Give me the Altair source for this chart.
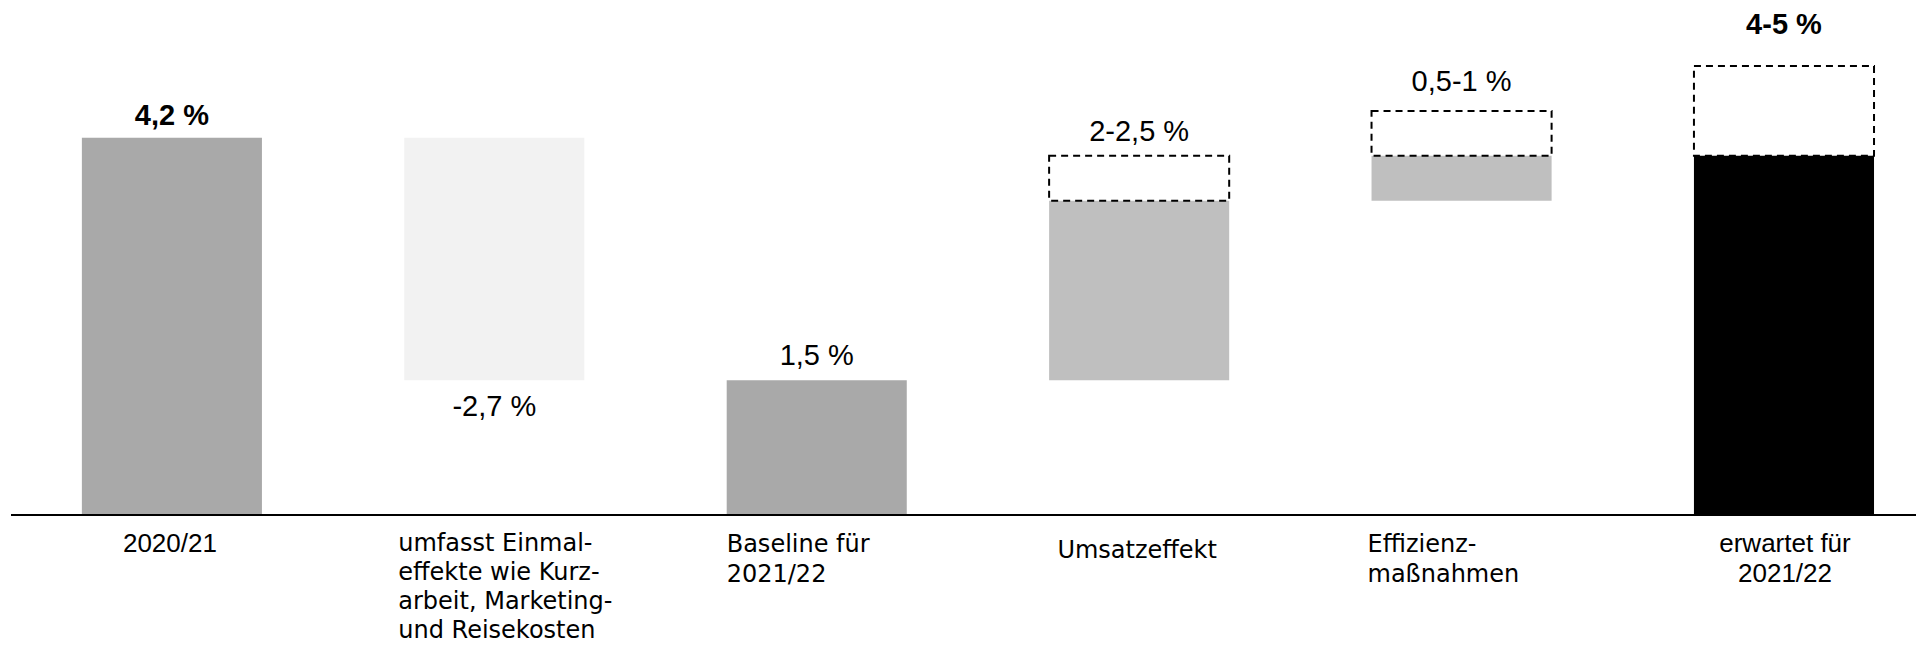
import altair as alt
import pandas as pd

# ---- data ----
keys = ["k2020", "einmal", "baseline", "umsatz", "effizienz", "erwartet"]
cat_labels = [
    "2020/21",
    "umfasst Einmal-\neffekte wie Kurz-\narbeit, Marketing-\nund Reisekosten",
    "Baseline für\n2021/22",
    "Umsatzeffekt",
    "Effizienz-\nmaßnahmen",
    "erwartet für\n2021/22",
]
solid_start = [0.0, 1.5, 0.0, 1.5, 3.5, 0.0]
solid_end = [4.2, 4.2, 1.5, 3.5, 4.0, 4.0]
solid_colors = ["#a9a9a9", "#f2f2f2", "#a9a9a9", "#bfbfbf", "#bfbfbf", "#000000"]
range_start = [None, None, None, 3.5, 4.0, 4.0]
range_end = [None, None, None, 4.0, 4.5, 5.0]
value_labels = ["4,2 %", "-2,7 %", "1,5 %", "2-2,5 %", "0,5-1 %", "4-5 %"]
label_bold = [True, False, False, False, False, True]
label_below = [False, True, False, False, False, False]

# ---- styling (not data) ----
value_dy = [-13, 36, -15, -15, -20, -32]
cat_align = ["center", "left", "left", "center", "left", "center"]
cat_dx = [-2, -6, 0, -2, -4, 1]
cat_dy = [37, 36, 37, 43, 37, 37]
cat_line_height = [30, 29, 30, 30, 30, 30]
cat_font = ["Liberation Sans", "DejaVu Sans", "DejaVu Sans", "DejaVu Sans", "DejaVu Sans", "Liberation Sans"]
cat_size = [26, 24, 24, 24, 24, 26]

anchor = []
for i in range(len(keys)):
    if label_below[i]:
        anchor.append(solid_start[i])
    else:
        top = solid_end[i]
        if range_end[i] is not None:
            top = max(top, range_end[i])
        anchor.append(top)

df = pd.DataFrame({
    "key": keys,
    "cat": cat_labels,
    "start": solid_start,
    "end": solid_end,
    "color": solid_colors,
    "rstart": range_start,
    "rend": range_end,
    "label": value_labels,
    "anchor": anchor,
})

x_scale = alt.Scale(domain=keys, paddingInner=0.4415, paddingOuter=0.175, align=0.628)
y_scale = alt.Scale(domain=[0, 5.646], nice=False, zero=False)


def xenc(band=0.5):
    return alt.X("key:N", scale=x_scale, axis=None, bandPosition=band)


base = alt.Chart(df).transform_calculate(zero="0")

solid = base.mark_bar().encode(
    x=alt.X("key:N", scale=x_scale, axis=None),
    y=alt.Y("start:Q", scale=y_scale, axis=None),
    y2="end:Q",
    color=alt.Color("color:N", scale=None),
)

dashed = base.transform_filter("datum.rstart != null").mark_bar(
    fill="white", fillOpacity=0, stroke="black", strokeWidth=2, strokeDash=[7, 5]
).encode(
    x=alt.X("key:N", scale=x_scale, axis=None),
    y=alt.Y("rstart:Q", scale=y_scale, axis=None),
    y2="rend:Q",
)

baseline_rule = base.mark_rule(color="black", strokeWidth=2).encode(
    y=alt.Y("zero:Q", scale=y_scale, axis=None)
)

layers = [solid, dashed, baseline_rule]

for i, k in enumerate(keys):
    layers.append(
        base.transform_filter(alt.datum.key == k).mark_text(
            font="Liberation Sans",
            fontSize=29,
            fontWeight="bold" if label_bold[i] else "normal",
            align="center",
            baseline="alphabetic",
            dy=value_dy[i],
            color="black",
        ).encode(
            x=xenc(0.5),
            y=alt.Y("anchor:Q", scale=y_scale, axis=None),
            text="label:N",
        )
    )
    layers.append(
        base.transform_filter(alt.datum.key == k).mark_text(
            font=cat_font[i],
            fontSize=cat_size[i],
            align=cat_align[i],
            baseline="alphabetic",
            lineBreak="\n",
            lineHeight=cat_line_height[i],
            dx=cat_dx[i],
            dy=cat_dy[i],
            color="black",
        ).encode(
            x=xenc(0 if cat_align[i] == "left" else 0.5),
            y=alt.Y("zero:Q", scale=y_scale, axis=None),
            text="cat:N",
        )
    )

chart = alt.layer(*layers).properties(
    width=1905,
    height=507,
    padding={"left": 3, "top": 0, "right": 0, "bottom": 130},
    autosize=alt.AutoSizeParams(type="none"),
).configure_view(stroke=None)

chart.save("out.html", embed_options={"renderer": "svg", "actions": False})
